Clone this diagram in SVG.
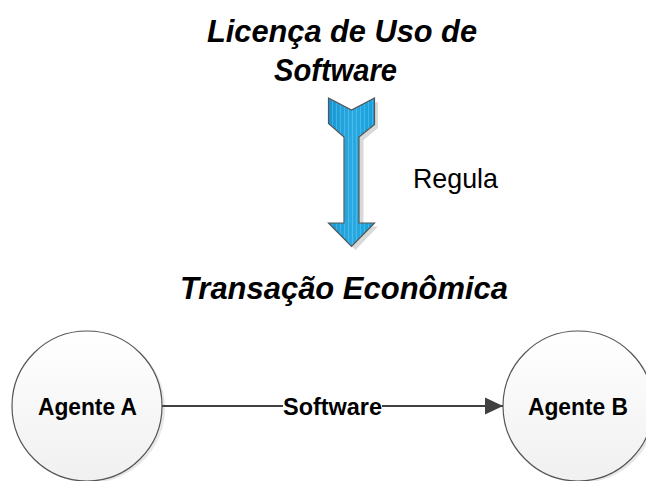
<svg xmlns="http://www.w3.org/2000/svg" width="646" height="481" viewBox="0 0 646 481">
  <defs>
    <style>
      .title { font-family: "Liberation Sans", Arial, sans-serif; font-weight: bold; font-style: italic; font-size: 31px; fill: #000; text-anchor: middle; }
      .label { font-family: "Liberation Sans", Arial, sans-serif; font-weight: bold; font-size: 24px; fill: #000; text-anchor: middle; }
      .plain { font-family: "Liberation Sans", Arial, sans-serif; font-size: 28px; fill: #000; }
      .node { fill: url(#nodeFill); stroke: #555; stroke-width: 1.2; }
      .shadow { fill: #e8e8e8; }
      .conn { stroke: #404040; stroke-width: 2; fill: none; }
    </style>
    <linearGradient id="nodeFill" x1="0" y1="0" x2="0" y2="1">
      <stop offset="0" stop-color="#ffffff"/>
      <stop offset="1" stop-color="#f0f0f0"/>
    </linearGradient>
    <linearGradient id="arrowFill" x1="0" y1="0" x2="1" y2="0">
      <stop offset="0" stop-color="#1596d4"/>
      <stop offset="0.5" stop-color="#2aaae2"/>
      <stop offset="1" stop-color="#15a0dc"/>
    </linearGradient>
    <pattern id="stripes" patternUnits="userSpaceOnUse" width="4" height="10">
      <rect width="4" height="10" fill="none"/>
      <rect x="0" width="1" height="10" fill="#ffffff" fill-opacity="0.18"/>
    </pattern>
    <marker id="arrowHead" markerWidth="18" markerHeight="18" viewBox="0 0 18 18" refX="18" refY="9" orient="auto" markerUnits="userSpaceOnUse">
      <path d="M0,0.5 L18,9 L0,17.5 Z" fill="#404040"/>
    </marker>
  </defs>

  <g id="title">
    <text class="title" x="342" y="42" textLength="270" lengthAdjust="spacingAndGlyphs">Licença de Uso de</text>
    <text class="title" x="335.5" y="81" textLength="123" lengthAdjust="spacingAndGlyphs">Software</text>
  </g>

  <g id="regula-arrow">
    <path d="M332,101.5 L355.5,113.5 L378,101.5 L378,128 L363.5,140 L363.5,226.5 L378,226.5 L355.5,250 L332,226.5 L348,226.5 L348,140 L332,126.5 Z" fill="#d9d9d9"/>
    <path d="M328.5,98 L351.5,110 L374.5,98 L374.5,124.5 L359,137 L359,223 L374.5,223 L351.5,246.5 L328.5,223 L344,223 L344,137 L328.5,123.5 Z" fill="url(#arrowFill)"/>
    <path d="M328.5,98 L351.5,110 L374.5,98 L374.5,124.5 L359,137 L359,223 L374.5,223 L351.5,246.5 L328.5,223 L344,223 L344,137 L328.5,123.5 Z" fill="url(#stripes)" stroke="#555" stroke-width="1.2" stroke-linejoin="miter"/>
    <text class="plain" x="413" y="188" textLength="85" lengthAdjust="spacingAndGlyphs">Regula</text>
  </g>

  <g id="subtitle">
    <text class="title" x="344" y="299" textLength="328" lengthAdjust="spacingAndGlyphs">Transação Econômica</text>
  </g>

  <g id="agente-a">
    <circle class="shadow" cx="90" cy="408" r="75"/>
    <circle class="node" cx="87" cy="406" r="75"/>
    <text class="label" x="87.5" y="415" textLength="99" lengthAdjust="spacingAndGlyphs">Agente A</text>
  </g>

  <g id="agente-b">
    <circle class="shadow" cx="581" cy="408" r="75"/>
    <circle class="node" cx="578" cy="406" r="75"/>
    <text class="label" x="578" y="415" textLength="100" lengthAdjust="spacingAndGlyphs">Agente B</text>
  </g>

  <g id="connectors">
    <line class="conn" x1="162" y1="406" x2="283" y2="406"/>
    <line class="conn" x1="382" y1="406" x2="503" y2="406" marker-end="url(#arrowHead)"/>
    <text class="label" x="332.5" y="415" textLength="99" lengthAdjust="spacingAndGlyphs">Software</text>
  </g>
</svg>
